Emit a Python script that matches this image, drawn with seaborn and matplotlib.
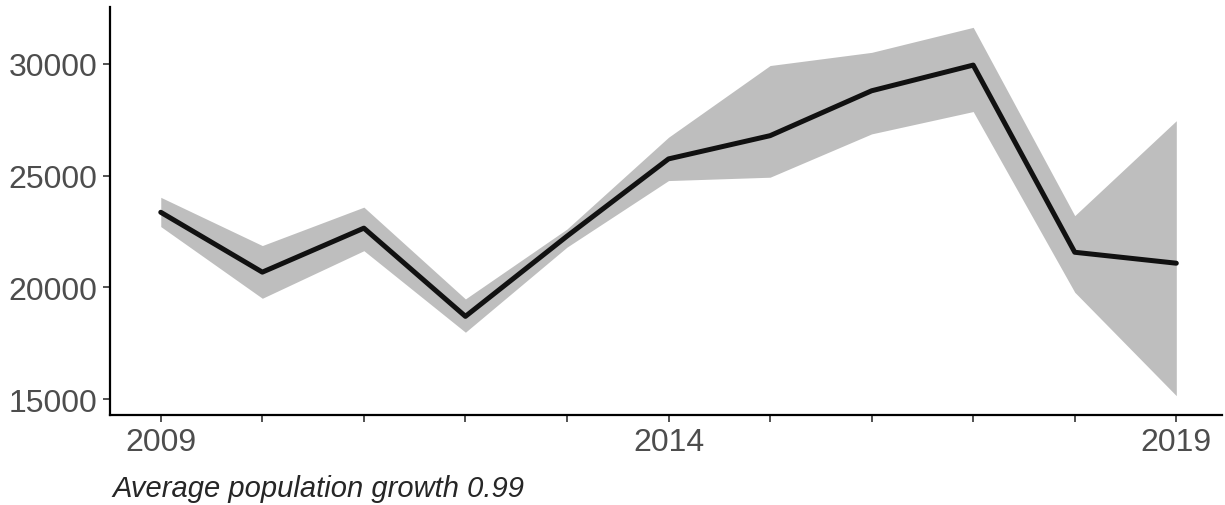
import numpy as np
import pandas as pd
import seaborn as sns
import matplotlib.pyplot as plt
from matplotlib.ticker import MultipleLocator

# datos
years = [2009, 2010, 2011, 2012, 2013, 2014, 2015, 2016, 2017, 2018, 2019]
population = [23360, 20680, 22650, 18700, 22290, 25750, 26790, 28800, 29950, 21570, 21080]
lower = [22720, 19510, 21640, 17990, 21800, 24780, 24930, 26870, 27870, 19780, 15150]
upper = [24030, 21870, 23590, 19480, 22610, 26720, 29930, 30520, 31640, 23210, 27460]
caption = "Average population growth 0.99"

df = pd.DataFrame({"year": years, "pop": population, "lo": lower, "hi": upper})

sns.set_style("ticks")
plt.rcParams['font.family'] = ['Liberation Sans', 'DejaVu Sans']

fig = plt.figure(figsize=(12.25, 5.06), dpi=100)
ax = fig.add_axes([110/1225, 90/506, 1112/1225, 408/506])

ax.fill_between(df["year"], df["lo"], df["hi"], color="#bebebe", linewidth=0, zorder=1)
sns.lineplot(data=df, x="year", y="pop", color="#111111", linewidth=3.6, ax=ax, zorder=2)

ax.set_xlim(2008.5, 2019.45)
ax.set_ylim(14284, 32551)
ax.set_xticks([2009, 2014, 2019])
ax.xaxis.set_minor_locator(MultipleLocator(1))
ax.set_yticks([15000, 20000, 25000, 30000])
ax.set_xlabel("")
ax.set_ylabel("")

for s in ["top", "right"]:
    ax.spines[s].set_visible(False)
for s in ["left", "bottom"]:
    ax.spines[s].set_linewidth(1.6)
    ax.spines[s].set_color("black")

ax.tick_params(axis="both", which="both", length=5, width=1.2, color="#333333",
               labelsize=23, labelcolor="#4d4d4d", pad=4)
ax.tick_params(axis="x", which="minor", length=5)

fig.text(112/1225, 17/506, caption, fontsize=21, style="italic", va="center", ha="left")

plt.savefig("out.png", dpi=100)
plt.close()
